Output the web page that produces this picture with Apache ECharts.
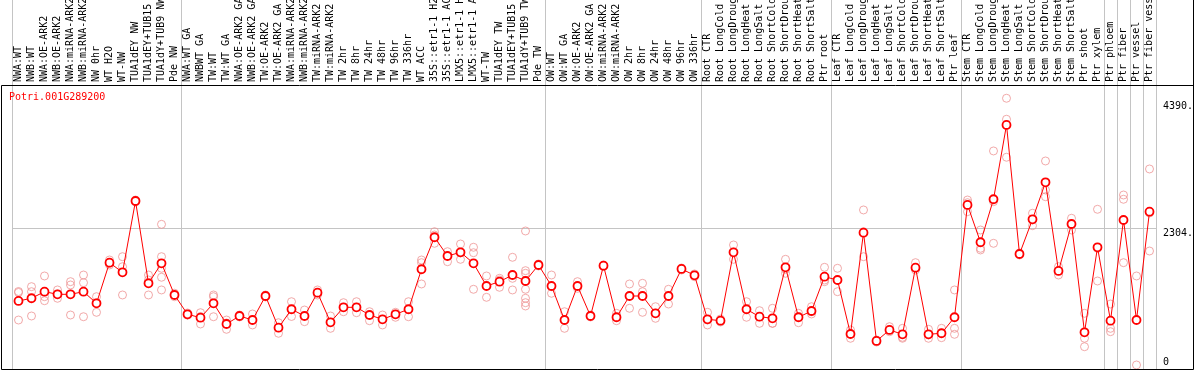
<!doctype html>
<html>

<head>
  <meta charset="utf-8">
  <title>Potri.001G289200</title>
  <script src="https://cdn.jsdelivr.net/npm/echarts@6/dist/echarts.min.js"></script>
  <style>
    html,
    body {
      margin: 0;
      padding: 0;
      background-color: #fff;
    }

    #main {
      width: 1194px;
      height: 370px;
    }
  </style>
</head>

<body>
  <div id="main"></div>
</body>

<script type="text/javascript">
  var geneName = 'Potri.001G289200';

  // sample names, in plotting order
  var samples = [
    'NWA:WT', 'NWB:WT', 'NWA:OE-ARK2', 'NWB:OE-ARK2', 'NWA:miRNA-ARK2', 'NWB:miRNA-ARK2',
    'NW 0hr', 'WT H2O', 'WT-NW', 'TUA1dEY NW', 'TUA1dEY+TUB15 NW', 'TUA1dY+TUB9 NW', 'Pde NW',
    'NWA:WT GA', 'NWBWT GA', 'TW:WT', 'TW:WT GA', 'NWA:OE-ARK2 GA', 'NWB:OE-ARK2 GA',
    'TW:OE-ARK2', 'TW:OE-ARK2 GA', 'NWA:miRNA-ARK2 GA', 'NWB:miRNA-ARK2 GA', 'TW:miRNA-ARK2',
    'TW:miRNA-ARK2 GA', 'TW 2hr', 'TW 8hr', 'TW 24hr', 'TW 48hr', 'TW 96hr', 'TW 336hr', 'WT ACC',
    '35S::etr1-1 H2O', '35S::etr1-1 ACC', 'LMX5::etr1-1 H2O', 'LMX5::etr1-1 ACC', 'WT-TW',
    'TUA1dEY TW', 'TUA1dEY+TUB15 TW', 'TUA1dY+TUB9 TW', 'Pde TW',
    'OW:WT', 'OW:WT GA', 'OW:OE-ARK2', 'OW:OE-ARK2 GA', 'OW:miRNA-ARK2', 'OW:miRNA-ARK2 GA',
    'OW 2hr', 'OW 8hr', 'OW 24hr', 'OW 48hr', 'OW 96hr', 'OW 336hr',
    'Root CTR', 'Root LongCold', 'Root LongDrought', 'Root LongHeat', 'Root LongSalt',
    'Root ShortCold', 'Root ShortDrought', 'Root ShortHeat', 'Root ShortSalt', 'Ptr root',
    'Leaf CTR', 'Leaf LongCold', 'Leaf LongDrought', 'Leaf LongHeat', 'Leaf LongSalt',
    'Leaf ShortCold', 'Leaf ShortDrought', 'Leaf ShortHeat', 'Leaf ShortSalt', 'Ptr leaf',
    'Stem CTR', 'Stem LongCold', 'Stem LongDrought', 'Stem LongHeat', 'Stem LongSalt',
    'Stem ShortCold', 'Stem ShortDrought', 'Stem ShortHeat', 'Stem ShortSalt', 'Ptr shoot',
    'Ptr xylem', 'Ptr phloem', 'Ptr fiber', 'Ptr vessel', 'Ptr fiber vessel'
  ];

  // first sample of every group (grey separators)
  var groupStarts = [0, 13, 41, 53, 63, 73, 84, 85, 86, 87];

  // mean expression per sample
  var means = [
    1114, 1158, 1266, 1223, 1223, 1266, 1076, 1741, 1583, 2751, 1403, 1731, 1212,
    896, 840, 1076, 737, 868, 802, 1195, 676, 978, 868, 1249, 765, 1010, 1010, 884, 814, 896, 978,
    1633, 2157, 1850, 1911, 1731, 1359, 1430, 1539, 1441, 1703,
    1359, 802, 1359, 868, 1692, 847, 1195, 1195, 912, 1195, 1638, 1534,
    814, 791, 1911, 978, 856, 830, 1665, 847, 950, 1511,
    1457, 573, 2232, 459, 639, 568, 1659, 568, 585, 847,
    2686, 2075, 2779, 3996, 1883, 2451, 3057, 1605, 2374, 601, 1993,
    791, 2440, 802, 2576
  ];

  // single replicate values per sample
  var replicates = [
    [1269, 1253, 802], [1348, 1266, 868], [1523, 1184, 1118], [1294, 1228, 1158],
    [1430, 1376, 884], [1539, 1413, 856], [1184, 1086, 928], [1785, 1731, 1703],
    [1839, 1675, 1212], [2767, 2751, 2735], [1539, 1457, 1212], [2369, 1839, 1649, 1502, 1294],
    [1240, 1212, 1184],
    [917, 884, 884], [922, 860, 737], [1212, 1184, 856], [802, 753, 650], [884, 868, 852],
    [901, 802, 721], [1212, 1195, 1179], [758, 676, 585], [1102, 978, 860], [966, 868, 775],
    [1294, 1245, 1212], [868, 765, 666], [1086, 1010, 938], [1102, 1010, 922], [938, 884, 791],
    [884, 814, 721], [928, 896, 847], [1102, 978, 856], [1785, 1741, 1392], [2248, 2194, 2058],
    [1921, 1850, 1757], [2047, 1900, 1796], [1993, 1904, 1305], [1523, 1359, 1174],
    [1485, 1457, 1338], [1829, 1485, 1294], [2260, 1610, 1567, 1305, 1158, 1086, 1032],
    [1720, 1703, 1687],
    [1539, 1348, 1240], [938, 802, 666], [1430, 1359, 1321], [884, 868, 852], [1703, 1692, 1679],
    [912, 847, 791], [1392, 1195, 994], [1403, 1266, 928], [1020, 912, 830], [1305, 1195, 1064],
    [1654, 1638, 1621], [1556, 1534, 1511],
    [928, 802, 721], [819, 786, 770], [2031, 1916, 1796], [1102, 978, 847], [955, 856, 748],
    [994, 748, 748], [1796, 1633, 1567], [912, 856, 758], [1020, 938, 901], [1665, 1457, 1430],
    [1649, 1457, 1266], [639, 573, 503], [2604, 2248, 1839], [475, 459, 442], [693, 639, 611],
    [666, 519, 503], [1741, 1649, 1621], [650, 557, 503], [666, 585, 513], [1294, 666, 568],
    [2767, 2723, 2576], [2276, 1976, 1949], [3570, 2740, 2058], [4433, 4089, 3467],
    [1900, 1883, 1867], [2550, 2440, 2347], [3406, 2931, 2821], [1675, 1605, 1539],
    [2468, 2374, 2276], [912, 503, 365], [2615, 1976, 1441],
    [1064, 666, 611], [2849, 2779, 1741], [1523, 66], [3275, 2555, 1932]
  ];

  var yLabels = [0, 2304, 4390];
  var yGrid = [2304];
  var yMax = 4650;

  var mono = 'DejaVu Sans Mono';

  var repPoints = [];
  replicates.forEach(function (arr, i) {
    arr.forEach(function (v) {
      repPoints.push([i, v]);
    });
  });

  function isGroupStart(index) {
    return groupStarts.indexOf(index) >= 0;
  }

  var option = {
    animation: false,
    backgroundColor: '#fff',
    title: {
      text: geneName,
      left: 9,
      top: 92,
      padding: 0,
      textStyle: {
        color: '#ff0000',
        fontFamily: mono,
        fontSize: 10,
        fontWeight: 'normal'
      }
    },
    grid: [
      { left: 12, right: 38, top: 85, bottom: 1, outerBoundsMode: 'none', containLabel: false },  // plot
      { left: 12, right: 38, top: 0, height: 85, outerBoundsMode: 'none', containLabel: false }   // label band
    ],
    xAxis: [
      {
        gridIndex: 0,
        type: 'category',
        position: 'top',
        data: samples,
        axisLine: { show: false },
        axisTick: { show: false },
        axisLabel: {
          interval: 0,
          rotate: 90,
          margin: 3,
          hideOverlap: false,
          color: '#000',
          fontFamily: mono,
          fontSize: 10
        },
        splitLine: {
          show: true,
          interval: isGroupStart,
          lineStyle: { color: '#c4c4c4', width: 1 }
        }
      },
      {
        gridIndex: 1,
        type: 'category',
        data: samples,
        axisLine: { show: false },
        axisTick: { show: false },
        axisLabel: { show: false },
        splitLine: {
          show: true,
          interval: isGroupStart,
          lineStyle: { color: '#c4c4c4', width: 1 }
        }
      }
    ],
    yAxis: [
      {
        gridIndex: 0,
        type: 'value',
        position: 'right',
        min: 0,
        max: yMax,
        axisLine: { show: false },
        axisTick: { show: false, customValues: yGrid },
        splitLine: { show: true, lineStyle: { color: '#c4c4c4', width: 1 } },
        axisLabel: {
          customValues: yLabels,
          margin: 7,
          align: 'left',
          verticalAlign: 'middle',
          color: '#000',
          fontFamily: mono,
          fontSize: 10,
          formatter: function (v) {
            return v === 0 ? '{up|0}' : '{dn|' + v + '.}';
          },
          rich: {
            up: { padding: [0, 0, 14, 0], fontFamily: mono, fontSize: 10, color: '#000' },
            dn: { padding: [11, 0, 0, 0], fontFamily: mono, fontSize: 10, color: '#000' }
          }
        }
      },
      { gridIndex: 1, type: 'value', show: false }
    ],
    graphic: [
      {
        type: 'rect',
        z: 50,
        silent: true,
        shape: { x: 1.5, y: 85.5, width: 1192, height: 284 },
        style: { fill: null, stroke: '#000', lineWidth: 1 }
      },
      {
        type: 'line',
        z: 50,
        silent: true,
        shape: { x1: 1193.5, y1: 0, x2: 1193.5, y2: 86 },
        style: { stroke: '#000', lineWidth: 1 }
      }
    ],
    series: [
      {
        name: 'replicates',
        type: 'scatter',
        xAxisIndex: 0,
        yAxisIndex: 0,
        silent: true,
        symbol: 'circle',
        symbolSize: 8,
        itemStyle: {
          color: 'rgba(0,0,0,0)',
          borderColor: '#ee9393',
          borderWidth: 1
        },
        z: 2,
        data: repPoints
      },
      {
        name: geneName,
        type: 'line',
        xAxisIndex: 0,
        yAxisIndex: 0,
        silent: true,
        symbol: 'circle',
        symbolSize: 8,
        showAllSymbol: true,
        lineStyle: { color: '#ff0000', width: 1 },
        itemStyle: { color: '#fff', borderColor: '#ff0000', borderWidth: 1.8 },
        z: 3,
        data: means
      }
    ]
  };

  var myChart = echarts.init(document.getElementById('main'));
  myChart.setOption(option);
</script>

</html>
